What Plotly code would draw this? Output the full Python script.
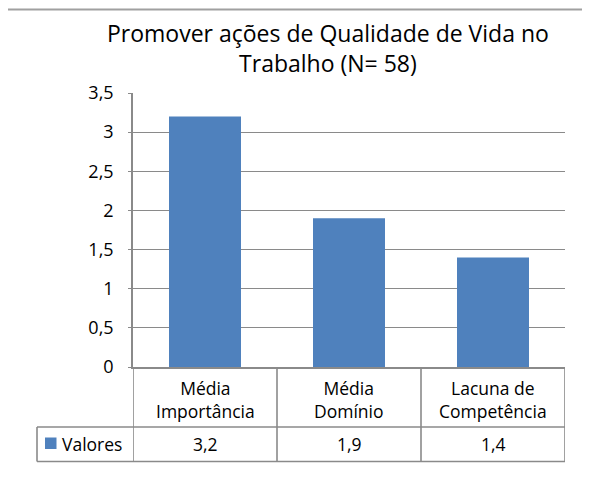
import plotly.graph_objects as go

title_lines = ["Promover ações de Qualidade de Vida no", "Trabalho (N= 58)"]
categories = ["Média<br>Importância", "Média<br>Domínio", "Lacuna de<br>Competência"]
values = [3.2, 1.9, 1.4]
value_labels = ["3,2", "1,9", "1,4"]
series_name = "Valores"
y_ticks = [0, 0.5, 1, 1.5, 2, 2.5, 3, 3.5]

W, H = 590, 504
OFF = 8  # page body margin
BLUE = "#4F81BD"
GRID = "#8a8a8a"
FONT = "Open Sans"

def px(x):
    return (x - OFF) / W

def py(y):
    return 1 - (y - OFF) / H

x_left, x_right = 133, 565
y_top, y_bot = 93, 367
y_row1 = 427
y_row2 = 461.5
x_legcell = 37

fig = go.Figure()
idx = list(range(len(categories)))
fig.add_trace(go.Bar(x=idx, y=values, marker=dict(color=BLUE, line=dict(width=0)),
                     width=0.5, name=series_name, showlegend=False, hoverinfo="skip"))

shapes = []
line = dict(color=GRID, width=1.6)
frame = dict(color="#a0a0a0", width=2)
# outer frame (left and top)
shapes.append(dict(type="line", xref="paper", yref="paper", x0=px(5), x1=1.05, y0=py(9.5), y1=py(9.5),
                   line=frame))
shapes.append(dict(type="line", xref="paper", yref="paper", x0=px(5), x1=px(5), y0=py(9.5), y1=-0.05,
                   line=frame))
# table horizontal lines
shapes.append(dict(type="line", xref="paper", yref="paper", x0=px(x_legcell), x1=px(x_right),
                   y0=py(y_row1), y1=py(y_row1), line=line))
shapes.append(dict(type="line", xref="paper", yref="paper", x0=px(x_legcell), x1=px(x_right),
                   y0=py(y_row2), y1=py(y_row2), line=line))
shapes.append(dict(type="line", xref="paper", yref="paper", x0=px(x_legcell), x1=px(x_legcell),
                   y0=py(y_row1), y1=py(y_row2), line=line))
# table vertical lines at category boundaries
for b in [i - 0.5 for i in idx] + [idx[-1] + 0.5]:
    shapes.append(dict(type="line", xref="x", yref="paper", x0=b, x1=b,
                       y0=py(y_bot), y1=py(y_row2), line=line))
# legend key
shapes.append(dict(type="rect", xref="paper", yref="paper", x0=px(45), x1=px(56.5),
                   y0=py(449), y1=py(437.5), fillcolor=BLUE, line=dict(width=0)))

annotations = []
annotations.append(dict(text="<br>".join(title_lines), xref="paper", yref="paper",
                        x=px(328), y=py(48), xanchor="center", yanchor="middle",
                        showarrow=False, font=dict(family=FONT, size=23, color="#000"),
                        align="center"))
for i, c in enumerate(categories):
    annotations.append(dict(text=c, xref="x", yref="paper", x=i, y=py(399),
                            xanchor="center", yanchor="middle", showarrow=False, align="center",
                            font=dict(family=FONT, size=17.5, color="#000")))
    annotations.append(dict(text=value_labels[i], xref="x", yref="paper", x=i,
                            y=py(443.5), xanchor="center", yanchor="middle",
                            showarrow=False, font=dict(family=FONT, size=17.5, color="#000")))
annotations.append(dict(text=series_name, xref="paper", yref="paper", x=px(60),
                        y=py(443.5), xanchor="left", yanchor="middle",
                        showarrow=False, font=dict(family=FONT, size=17.5, color="#000")))

fig.update_layout(
    width=W, height=H,
    margin=dict(l=0, r=0, t=0, b=0),
    paper_bgcolor="white", plot_bgcolor="white",
    separators=",.",
    showlegend=False,
    bargap=0.5,
    xaxis=dict(domain=[px(x_left), px(x_right)], range=[-0.5, 2.5], showticklabels=False,
               showgrid=False, zeroline=False, showline=True, linecolor=GRID, linewidth=1.6,
               ticks="", fixedrange=True, automargin=False),
    yaxis=dict(domain=[py(y_bot), py(y_top)], range=[0, 3.5], tickvals=y_ticks,
               showgrid=True, gridcolor=GRID, gridwidth=1.4, zeroline=False,
               showline=True, linecolor=GRID, linewidth=1.6, ticks="outside", ticklen=3,
               tickcolor=GRID, tickwidth=1.4, ticklabelstandoff=11,
               tickfont=dict(family=FONT, size=18, color="#000"), fixedrange=True,
               automargin=False),
    shapes=shapes,
    annotations=annotations,
)

fig.write_html("out.html")
